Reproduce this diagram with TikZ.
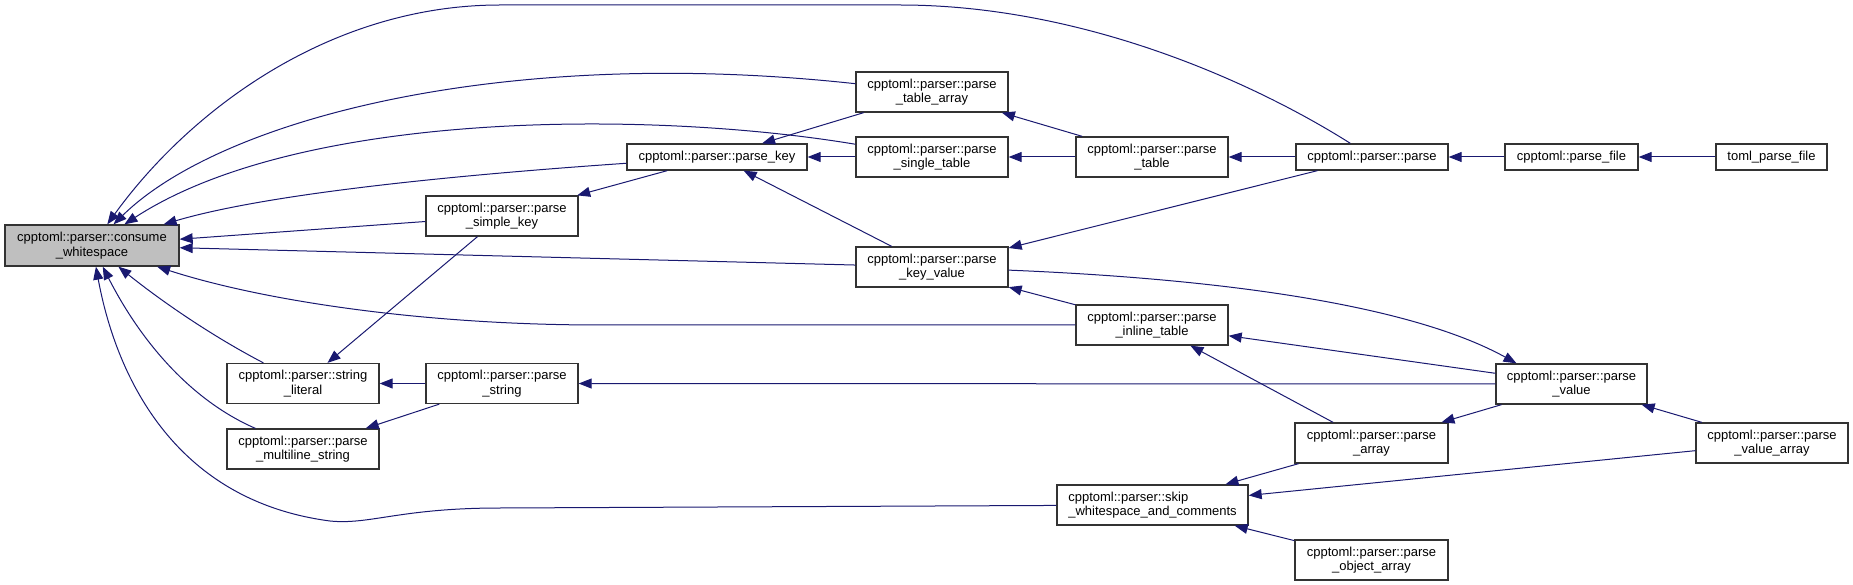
\documentclass[tikz,border=0pt]{standalone}
\usepackage{fontspec}
\setmainfont{Liberation Sans}
\usetikzlibrary{arrows.meta}
\definecolor{callBlue}{HTML}{191970}
\definecolor{rootGray}{HTML}{BFBFBF}

\begin{document}
\begin{tikzpicture}[x=1pt, y=-1pt,
    fn/.style={rectangle, draw=black!80, line width=1.3pt, fill=white,
               minimum width=152pt, minimum height=40pt, inner sep=2pt,
               align=center, font=\fontsize{13}{14.7}\selectfont},
    fnline/.style={fn, minimum height=26pt},
    rootfn/.style={fn, fill=rootGray, minimum width=174pt, minimum height=41pt},
    call/.style={draw=callBlue, line width=1pt, -{Triangle[length=13pt, width=10pt]}},
  ]
    \useasboundingbox (0,0) rectangle (1853,585);

    \node[rootfn] (cw) at (92,245.5) {cpptoml::parser::consume\\\_whitespace};
    \node[fn] (psk) at (502,216) {cpptoml::parser::parse\\\_simple\_key};
    \node[fn] (sl) at (303,383.5) {cpptoml::parser::string\\\_literal};
    \node[fn] (pstr) at (502,383.5) {cpptoml::parser::parse\\\_string};
    \node[fn] (pms) at (303,449) {cpptoml::parser::parse\\\_multiline\_string};
    \node[fn] (pta) at (932,92) {cpptoml::parser::parse\\\_table\_array};
    \node[fnline, minimum width=180pt] (pk) at (717,157) {cpptoml::parser::parse\_key};
    \node[fn] (pst) at (932,157) {cpptoml::parser::parse\\\_single\_table};
    \node[fn] (pkv) at (932,267) {cpptoml::parser::parse\\\_key\_value};
    \node[fn] (ptab) at (1152,157) {cpptoml::parser::parse\\\_table};
    \node[fn] (pit) at (1152,325) {cpptoml::parser::parse\\\_inline\_table};
    \node[fn, minimum width=191pt, align=left] (swc) at (1152.5,505) {cpptoml::parser::skip\\\_whitespace\_and\_comments};
    \node[fnline] (pp) at (1372,157) {cpptoml::parser::parse};
    \node[fn, minimum width=153pt] (pa) at (1371.5,443) {cpptoml::parser::parse\\\_array};
    \node[fn, minimum width=153pt] (poa) at (1371.5,560) {cpptoml::parser::parse\\\_object\_array};
    \node[fnline, minimum width=133pt] (pf) at (1571.5,157) {cpptoml::parse\_file};
    \node[fn, minimum width=151pt] (pv) at (1571.5,384) {cpptoml::parser::parse\\\_value};
    \node[fnline, minimum width=111pt] (tpf) at (1771.5,157) {toml\_parse\_file};
    \node[fn] (pva) at (1772,443) {cpptoml::parser::parse\\\_value\_array};

    \draw[call] (pp) .. controls (1250,80) and (1080,5) .. (900,5) -- (500,5)
                .. controls (330,5) and (190,110) .. (cw);
    \draw[call] (pta) .. controls (500,45) and (220,120) .. (cw);
    \draw[call] (pst) .. controls (650,110) and (300,110) .. (cw);
    \draw[call] (pk) .. controls (500,172) and (280,190) .. (cw);
    \draw[call] (psk) -- (cw);
    \draw[call] (pkv) -- (cw);
    \draw[call] (pit) -- (600,325) .. controls (420,325) and (260,300) .. (cw);
    \draw[call] (sl) .. controls (210,335) and (160,300) .. (cw);
    \draw[call] (pms) .. controls (190,400) and (140,340) .. (cw);
    \draw[call] (swc) -- (500,508) .. controls (400,508) and (370,525) .. (330,521)
                .. controls (170,500) and (115,370) .. (cw);

    \draw[call] (pta) -- (pk);
    \draw[call] (pst) -- (pk);
    \draw[call] (pkv) -- (pk);
    \draw[call] (pk) -- (psk);
    \draw[call] (psk) -- (sl);
    \draw[call] (pstr) -- (sl);
    \draw[call] (pstr) -- (pms);
    \draw[call] (pv) -- (pstr);
    \draw[call] (ptab) -- (pta);
    \draw[call] (ptab) -- (pst);
    \draw[call] (pp) -- (ptab);
    \draw[call] (pf) -- (pp);
    \draw[call] (tpf) -- (pf);
    \draw[call] (pp) -- (pkv);
    \draw[call] (pit) -- (pkv);
    \draw[call] (pkv) .. controls (1250,280) and (1420,310) .. ([xshift=-55pt]pv.north);
    \draw[call] (pv) -- (pit);
    \draw[call] (pa) -- (pit);
    \draw[call] (pv) -- (pa);
    \draw[call] (pva) -- (pv);
    \draw[call] (pa) -- (swc);
    \draw[call] (pva) -- (swc);
    \draw[call] (poa) -- (swc);
  \end{tikzpicture}
\end{document}
